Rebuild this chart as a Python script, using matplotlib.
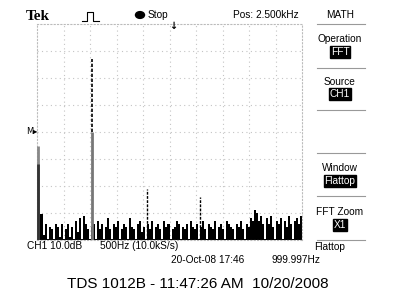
import matplotlib
matplotlib.use("Agg")
import matplotlib.pyplot as plt
import numpy as np

# ---- data ----
span_hz = 5000.0          # 10 div x 500 Hz
db_top = 80.0             # 8 div x 10 dB
noise_step = 5000.0 / 132
noise_db = [9.5, 9.5, 9.5, 2, 6, 0.5, 5, 4, 0.5, 6, 5, 1, 6, 0.5, 4, 6, 1, 5, 0.5, 7,
            3, 8, 0.5, 9, 6, 4, 0.5, 5, 6, 0.5, 7, 4, 6, 0.5, 5, 8, 4, 0.5, 6, 5,
            7, 0.5, 4, 6, 5, 0.5, 8, 5, 4, 0.5, 6, 7, 3, 5, 0.5, 6, 4, 7, 0.5, 5,
            6, 4, 0.5, 7, 5, 6, 0.5, 4, 5, 7, 6, 0.5, 5, 4, 6, 0.5, 7, 5, 4, 6,
            0.5, 5, 7, 4, 0.5, 6, 5, 4, 7, 0.5, 5, 6, 4, 0.5, 7, 6, 5, 4, 0.5, 6,
            5, 7, 4, 0.5, 6, 5, 8, 7, 11, 10, 7, 9, 6, 0.5, 8, 6, 9, 5, 0.5, 7,
            6, 8, 0.5, 7, 5, 9, 6, 0.5, 7, 8, 6, 9]
peak_hz = [20, 1040, 2070, 3080]
peak_db = [35, 67, 19, 16]

fig = plt.figure(figsize=(4, 3), dpi=100)
fig.patch.set_facecolor("white")
ax = fig.add_axes([37/400, 60/300, 265/400, 216/300])
ax.set_xlim(0, span_hz)
ax.set_ylim(0, db_top)

# graticule
for k in range(1, 10):
    ax.axvline(k * 500, color="#c4c4c4", lw=0.8, ls=(0, (1, 3)), zorder=0)
for k in range(1, 8):
    ax.axhline(k * 10, color="#c4c4c4", lw=0.8, ls=(0, (1, 3)), zorder=0)
for s in ax.spines.values():
    s.set_color("#bbbbbb")
    s.set_linestyle((0, (1, 2)))
    s.set_linewidth(0.8)
ax.set_xticks([]); ax.set_yticks([])

# noise floor
xs = np.arange(len(noise_db)) * noise_step + noise_step / 2
ax.bar(xs, noise_db, width=noise_step, color="black", linewidth=0, zorder=2)

# peaks
ax.vlines(peak_hz[0], 0, peak_db[0], color="#888888", lw=2, zorder=3)
ax.vlines(peak_hz[0], 0, peak_db[0] - 7, color="#333333", lw=2, zorder=3)
ax.vlines(peak_hz[1], 0, 40, color="#777777", lw=2, zorder=3)
ax.vlines(peak_hz[1], 40, peak_db[1], color="black", lw=1.2, ls=(0, (2, 1)), zorder=3)
ax.vlines(peak_hz[2], 0, peak_db[2], color="black", lw=1, ls=(0, (2, 1)), zorder=3)
ax.vlines(peak_hz[3], 0, peak_db[3], color="black", lw=1, ls=(0, (2, 1)), zorder=3)

nar = ["Liberation Sans", "DejaVu Sans"]
fs = 7.3
def T(x, y, s, **kw):
    d = dict(fontsize=fs, family=nar, va="center", ha="left")
    d.update(kw)
    fig.text(x/400, 1 - y/300, s, **d)

# top bar
T(26, 16, "Tek", family=["Liberation Serif", "DejaVu Serif"], fontweight="bold", fontsize=11)
fig.add_artist(plt.Line2D(np.array([82, 87, 87, 93, 93, 99]) / 400,
                          1 - np.array([21, 21, 12, 12, 21, 21]) / 300, color="black", lw=0.8))
fig.add_artist(plt.Circle((140/400, 1 - 15/300), 4.5/400, color="black", transform=fig.transFigure))
T(148, 15, "Stop")
T(233, 15, "Pos: 2.500kHz")
T(173, 26, "\u2193", ha="center", fontweight="bold", fontsize=7, family=["DejaVu Sans"])
T(26, 132, "M\u25b8", fontsize=6, family=["DejaVu Sans"])

# right menu
T(340, 15, "MATH", ha="center")
for yy in [24, 68, 110, 153, 196, 240]:
    fig.add_artist(plt.Line2D([317/400, 365/400], [1 - yy/300] * 2, color="#999999", lw=0.8))
def inv(y, s):
    fig.text(340/400, 1 - y/300, s, fontsize=fs, family=nar, color="white", ha="center", va="center",
             bbox=dict(boxstyle="square,pad=0.1", fc="black", ec="black"))
T(340, 39, "Operation", ha="center"); inv(52, "FFT")
T(340, 82, "Source", ha="center"); inv(94, "CH1")
T(340, 168, "Window", ha="center"); inv(181, "Flattop")
T(340, 212, "FFT Zoom", ha="center"); inv(225, "X1")
T(314, 247, "Flattop")

# bottom status
T(27, 246, "CH1 10.0dB")
T(100, 246, "500Hz (10.0kS/s)")
T(171, 260, "20-Oct-08 17:46")
T(272, 260, "999.997Hz")
fig.text(198/400, 1 - 284/300, "TDS 1012B - 11:47:26 AM  10/20/2008", fontsize=11,
         family=["Liberation Sans", "DejaVu Sans"], ha="center", va="center")

fig.savefig("out.png", dpi=100, facecolor="white")
